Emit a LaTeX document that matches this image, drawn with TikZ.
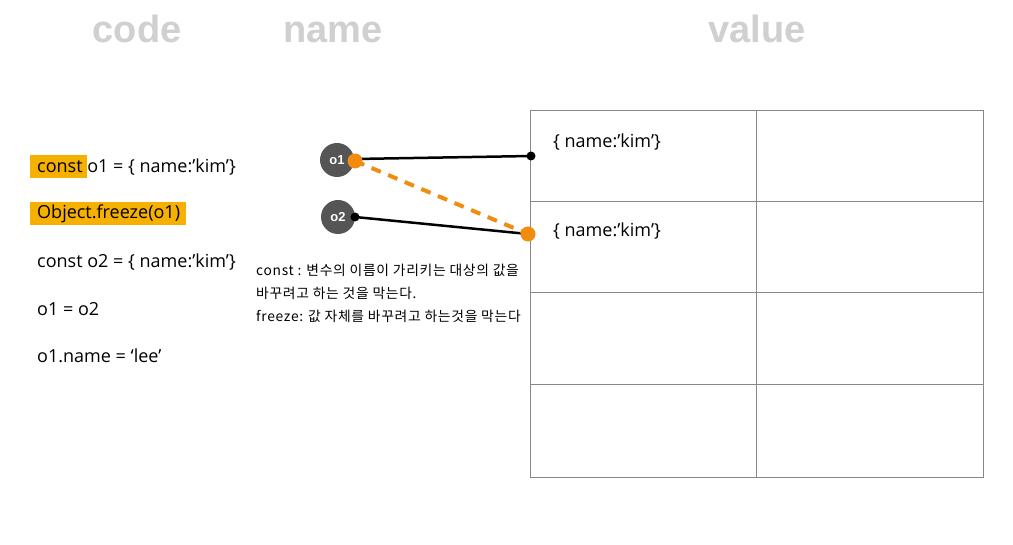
\documentclass[tikz,border=0pt]{standalone}
\usepackage{fontspec}
\setmainfont{Open Sans}
\newfontfamily\titlefont{Liberation Sans}
\newfontfamily\krfont[LetterSpace=5]{Noto Sans CJK KR}
\definecolor{titlegray}{HTML}{D0D0D0}
\definecolor{hl}{HTML}{F5B000}
\definecolor{circ}{HTML}{555555}
\definecolor{org}{HTML}{F28C0F}
\definecolor{grid}{HTML}{888888}
\tikzset{
  title/.style={font=\titlefont\bfseries\fontsize{38}{42}\selectfont, text=titlegray, anchor=base, inner sep=0pt},
  code/.style={font=\fontsize{18}{21}\selectfont, anchor=west, inner sep=0pt},
  hlbox/.style={fill=hl, draw=none},
  var/.style={circle, fill=circ, minimum size=34pt, inner sep=0pt, text=white, font=\titlefont\bfseries\fontsize{13}{15}\selectfont},
  kr/.style={font=\krfont\fontsize{13.8}{16}\selectfont, anchor=west, inner sep=0pt},
  gridline/.style={draw=grid, line width=1pt},
  ref/.style={line width=2.5pt, black},
  dashref/.style={line width=4pt, org, dash pattern=on 10pt off 8pt},
  bdot/.style={circle, fill=black, minimum size=9pt, inner sep=0pt},
  odot/.style={circle, fill=org, minimum size=15pt, inner sep=0pt}
}
\begin{document}
\begin{tikzpicture}[x=1pt,y=-1pt]
\useasboundingbox[fill=white] (0,0) rectangle (1013,545);
% titles
\node[title] (tcode) at (137,43) {code};
\node[title] (tname) at (333,43) {name};
\node[title] (tvalue) at (757,43) {value};
% highlights
\fill[hlbox] (30,155) rectangle (87,178);
\fill[hlbox] (30,202) rectangle (186,225);
% code lines
\node[code] (c1) at (37,167) {const o1 = \{ name:’kim’\}};
\node[code] (c2) at (37,214) {Object.freeze(o1)};
\node[code] (c3) at (37,262) {const o2 = \{ name:’kim’\}};
\node[code] (c4) at (37,309) {o1 = o2};
\node[code] (c5) at (37,356) {o1.name = ‘lee’};
% table
\draw[gridline] (530,111) rectangle (983,478);
\draw[gridline] (756,111) -- (756,478);
\draw[gridline] (530,202) -- (983,202);
\draw[gridline] (530,293) -- (983,293);
\draw[gridline] (530,385) -- (983,385);
\node[code] (v1) at (553,142) {\{ name:’kim’\}};
\node[code] (v2) at (553,231) {\{ name:’kim’\}};
% variables
\node[var] (o1) at (337,160) {o1};
\node[var] (o2) at (338,217) {o2};
\coordinate (o1e) at (355,159);
\coordinate (o1o) at (355,161);
\coordinate (o2e) at (355,217);
\coordinate (m1) at (531,156);
\coordinate (m2) at (528,234);
\draw[ref] (o1e) -- (m1);
\draw[ref] (o2e) -- (m2);
\draw[dashref] (o1o) -- (m2);
\node[bdot] (d1) at (m1) {};
\node[bdot] (d2) at (o2e) {};
\node[odot] (d3) at (o1o) {};
\node[odot] (d4) at (m2) {};
% notes
\node[kr] (n1) at (256,270) {const : 변수의 이름이 가리키는 대상의 값을};
\node[kr] (n2) at (256,293) {바꾸려고 하는 것을 막는다.};
\node[kr] (n3) at (256,316) {freeze: 값 자체를 바꾸려고 하는것을 막는다};
\end{tikzpicture}
\end{document}
